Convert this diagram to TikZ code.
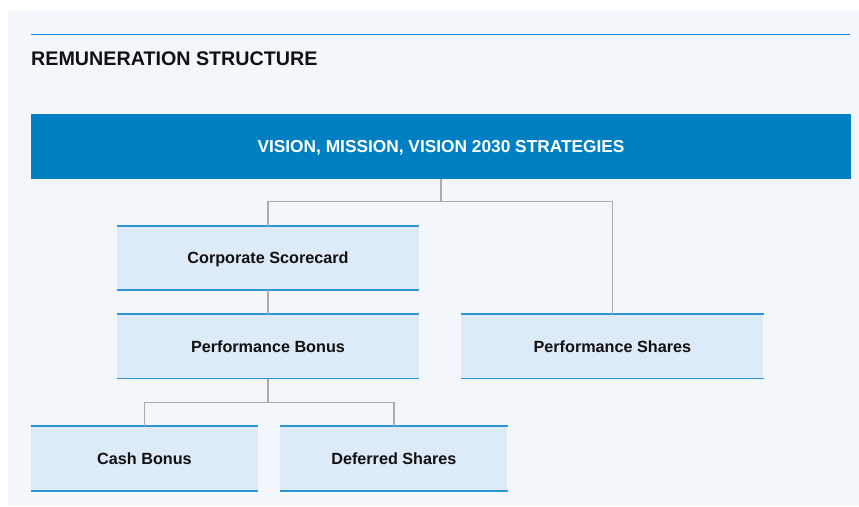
\documentclass[tikz,border=0pt]{standalone}
\usepackage{fontspec}
\setmainfont{Liberation Sans}
\usetikzlibrary{positioning}
\definecolor{panel}{HTML}{F3F6FB}
\definecolor{barblue}{HTML}{0080C3}
\definecolor{ruleblue}{HTML}{0A8AD8}
\definecolor{rimblue}{HTML}{2F95D5}
\definecolor{boxfill}{HTML}{DDEAF7}
\definecolor{linkgray}{HTML}{ABABAB}
\definecolor{ink}{HTML}{111111}

\begin{document}
\begin{tikzpicture}[x=1pt,y=-1pt,
        box/.style={
          fill=boxfill,text=ink,
          inner sep=0pt,
          text height=11.6pt,text depth=0pt,
          minimum width=302pt,
          minimum height=64pt,
          font=\fontsize{16.2}{19}\selectfont\bfseries
        },
        leaf/.style={box,minimum width=227pt,minimum height=65pt},
        head/.style={
          fill=barblue,text=white,
          inner sep=0pt,
          text height=12.4pt,text depth=0pt,
          minimum width=820pt,
          minimum height=65pt,
          font=\fontsize{17.3}{20}\selectfont\bfseries
        },
        link/.style={draw=linkgray,line width=1.3pt},
        rim/.style={draw=rimblue,line width=1.5pt},
      ]
      \useasboundingbox (0,0) rectangle (859,506);
      \fill[panel] (8,11) rectangle (859,505);
      \draw[ruleblue,line width=1.4pt] (31,34.5) -- (850,34.5);
      \node[anchor=base west,text=ink,inner sep=0pt,
        font=\fontsize{19.7}{23}\selectfont\bfseries] (title) at (31,65) {
        REMUNERATION STRUCTURE
      };

      \node[head] (vision) at (441,146.5) {
        VISION, MISSION, VISION 2030 STRATEGIES
      };
      \node[box] (scorecard) at (268,258) {
        Corporate Scorecard
      };
      \node[box,below=24pt of scorecard] (pbonus) {
        Performance Bonus
      };
      \node[box,right=42pt of pbonus] (pshares) {
        Performance Shares
      };
      \node[leaf] (cash) at (144.5,458.5) {
        Cash Bonus
      };
      \node[leaf,right=22pt of cash] (deferred) {
        Deferred Shares
      };

      \foreach \n in {scorecard,pbonus,pshares,cash,deferred}
        \draw[rim] (\n.north west) -- (\n.north east)
                   (\n.south west) -- (\n.south east);

      \draw[link] (vision.south) -- ++(0,22) -| (scorecard.north);
      \draw[link] (vision.south) ++(0,22) -| (pshares.north);
      \draw[link] (scorecard.south) -- (pbonus.north);
      \draw[link] (pbonus.south) -- ++(0,24) -| (cash.north);
      \draw[link] (pbonus.south) ++(0,24) -| (deferred.north);
    \end{tikzpicture}
\end{document}
